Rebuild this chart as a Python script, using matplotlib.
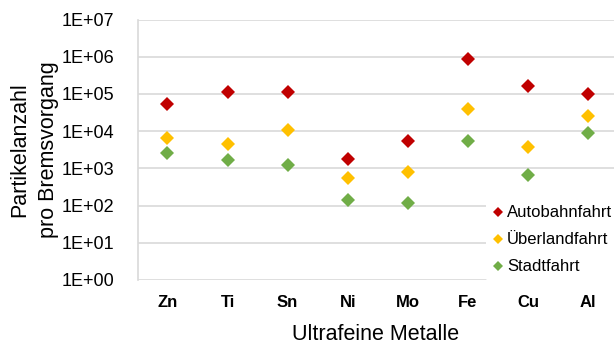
import matplotlib
matplotlib.use('Agg')
import matplotlib.pyplot as plt
from matplotlib.ticker import FuncFormatter, FixedLocator
import numpy as np

plt.rcParams['font.family'] = ['Liberation Sans', 'DejaVu Sans']

metals = ['Zn', 'Ti', 'Sn', 'Ni', 'Mo', 'Fe', 'Cu', 'Al']
autobahn = [5.3e4, 1.15e5, 1.15e5, 1.75e3, 5.3e3, 8.7e5, 1.65e5, 1.0e5]
ueberland = [6.4e3, 4.5e3, 1.1e4, 5.6e2, 8.0e2, 3.9e4, 3.8e3, 2.6e4]
stadt = [2.6e3, 1.65e3, 1.23e3, 1.4e2, 1.17e2, 5.5e3, 6.6e2, 8.7e3]

series = [('Autobahnfahrt', autobahn, '#C00000'),
          ('Überlandfahrt', ueberland, '#FFC000'),
          ('Stadtfahrt', stadt, '#70AD47')]

fig = plt.figure(figsize=(6.14, 3.47), dpi=100)
ax = fig.add_axes([138/614, 1 - 280/347, 476/614, (280 - 19.5)/347])

x = np.arange(len(metals))
for name, vals, col in series:
    ax.plot(x, vals, linestyle='none', marker='D', markersize=6.8,
            color=col, markeredgewidth=0, label=name, zorder=3)

ax.set_yscale('log')
ax.set_ylim(1, 1e7)
ax.yaxis.set_major_locator(FixedLocator([10.0**k for k in range(8)]))
ax.yaxis.set_minor_locator(FixedLocator([]))
ax.yaxis.set_major_formatter(FuncFormatter(lambda v, p: '1E+%02d' % int(round(np.log10(v)))))
ax.set_xlim(-0.49, -0.49 + 476/60.1)
ax.set_xticks(x)
ax.set_xticklabels(metals, fontweight='bold', fontsize=12)

ax.grid(axis='y', color='#D9D9D9', linewidth=1.2)
ax.set_axisbelow(True)
for s in ['top', 'right', 'bottom']:
    ax.spines[s].set_visible(False)
ax.spines['left'].set_color('#D9D9D9')
ax.spines['left'].set_linewidth(1.2)
ax.tick_params(axis='both', length=0)
ax.tick_params(axis='y', labelsize=13, pad=17)
ax.tick_params(axis='x', pad=11)

ax.set_xlabel('Ultrafeine Metalle', fontsize=15.5, labelpad=10)
ax.set_ylabel('Partikelanzahl\npro Bremsvorgang', fontsize=15.5, labelpad=2,
              linespacing=1.45)

leg = ax.legend(loc='upper left', bbox_to_anchor=(0.731, 0.312), frameon=True,
                fontsize=12, handlelength=0.6, handletextpad=0.26,
                labelspacing=0.72, borderpad=0.4, markerscale=0.8,
                borderaxespad=0)
leg.get_frame().set_edgecolor('none')
leg.get_frame().set_facecolor('white')
leg.get_frame().set_alpha(1)

fig.savefig('out.png', dpi=100)
